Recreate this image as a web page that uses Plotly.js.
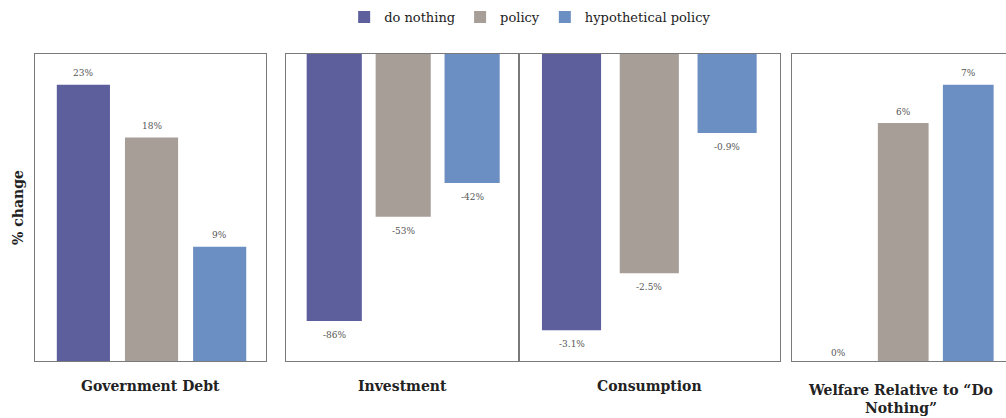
<!DOCTYPE html>
<html>
<head>
<meta charset="utf-8">
<script src="https://cdn.plot.ly/plotly-3.0.1.min.js"></script>
<style>html,body{margin:0;padding:0;background:#fff;}#chart{width:1006px;height:418px;}</style>
</head>
<body>
<div id="chart"></div>
<script>
// Data
const categories = ['do nothing', 'policy', 'hypothetical policy'];
const panelTitles = ['Government Debt', 'Investment', 'Consumption', 'Welfare Relative to “Do<br>Nothing”'];
const doNothing = [22.5, -87, -3.15, 0];
const policy = [18.2, -53, -2.5, 6.2];
const hypothetical = [9.3, -42, -0.9, 7.2];
const doNothingLabels = ['23%', '-86%', '-3.1%', '0%'];
const policyLabels = ['18%', '-53%', '-2.5%', '6%'];
const hypotheticalLabels = ['9%', '-42%', '-0.9%', '7%'];
const yRanges = [[0, 25], [-100, 0], [-3.5, 0], [0, 8]];

const series = [doNothing, policy, hypothetical];
const labels = [doNothingLabels, policyLabels, hypotheticalLabels];
const colors = ['#5c5f9c', '#a79e98', '#6b8fc2'];

const W = 1006, H = 418;
const px = v => v / W;
const py = v => (H - v) / H;
const yDom = [py(361), py(54)];
const xDoms = [[px(35), px(266)], [px(286), px(519)], [px(519), px(780)], [px(792), 1]];
const xRanges = [[-0.71, 2.68], [-0.70, 2.68], [-0.675, 2.68], [-0.71, 2.58]];
const barWidths = [0.78, 0.8, 0.76, 0.78];

const traces = [];
const annotations = [];
for (let s = 0; s < 3; s++) {
  for (let p = 0; p < 4; p++) {
    const sfx = p === 0 ? '' : String(p + 1);
    const v = series[s][p];
    traces.push({
      type: 'bar',
      name: categories[s],
      legendgroup: categories[s],
      showlegend: p === 0,
      x: [categories[s]],
      y: [v],
      width: barWidths[p],
      marker: {color: colors[s], line: {width: 0}},
      xaxis: 'x' + sfx,
      yaxis: 'y' + sfx,
      hoverinfo: 'skip'
    });
    annotations.push({
      xref: 'x' + sfx, yref: 'y' + sfx, x: categories[s], y: v,
      xanchor: 'center', yanchor: 'middle', showarrow: false,
      yshift: v > 0 ? 11.5 : (v < 0 ? -14 : 8),
      text: labels[s][p],
      font: {family: 'DejaVu Serif', size: 9, color: '#555'}
    });
  }
}

const layout = {
  width: W, height: H,
  margin: {l: 0, r: 0, t: 0, b: 0},
  paper_bgcolor: '#fff',
  plot_bgcolor: '#fff',
  barmode: 'overlay',
  showlegend: true,
  legend: {
    orientation: 'h', x: 0.527, xanchor: 'center', y: py(17), yanchor: 'middle',
    font: {family: 'DejaVu Serif', size: 13, color: '#222'},
    traceorder: 'normal', itemwidth: 30
  },
  annotations: annotations,
  font: {family: 'DejaVu Serif'}
};

const lineColor = '#7a7a7a';
for (let p = 0; p < 4; p++) {
  const sfx = p === 0 ? '' : String(p + 1);
  layout['xaxis' + sfx] = {
    domain: xDoms[p], anchor: 'y' + sfx, type: 'category',
    categoryorder: 'array', categoryarray: categories,
    range: xRanges[p], showticklabels: false, ticks: '',
    showgrid: false, zeroline: false,
    showline: true, linecolor: lineColor, linewidth: 1, mirror: true, fixedrange: true
  };
  layout['yaxis' + sfx] = {
    domain: yDom, anchor: 'x' + sfx, range: yRanges[p],
    showticklabels: false, ticks: '', showgrid: false, zeroline: false,
    showline: true, linecolor: lineColor, linewidth: 1, mirror: p === 3 ? false : true, fixedrange: true
  };
}

const titleX = [150, 402, 649, 900];
const titleTop = [376, 376, 376, 380];
for (let p = 0; p < 4; p++) {
  annotations.push({
    xref: 'paper', yref: 'paper', x: px(titleX[p]), y: py(titleTop[p]),
    xanchor: 'center', yanchor: 'top', showarrow: false,
    text: '<b>' + panelTitles[p] + '</b>',
    font: {family: 'DejaVu Serif', size: 14, color: '#222'}
  });
}
annotations.push({
  xref: 'paper', yref: 'paper', x: px(18), y: py(208),
  xanchor: 'center', yanchor: 'middle', showarrow: false, textangle: -90,
  text: '<b>% change</b>',
  font: {family: 'DejaVu Serif', size: 14, color: '#222'}
});

Plotly.newPlot('chart', traces, layout, {displayModeBar: false, staticPlot: true});
</script>
</body>
</html>
